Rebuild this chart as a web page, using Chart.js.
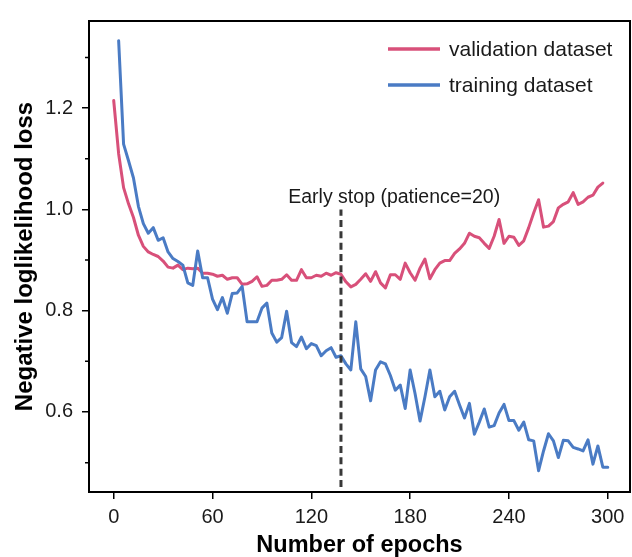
<!DOCTYPE html>
<html><head><meta charset="utf-8">
<style>html,body{margin:0;padding:0;background:#fff;} canvas{display:block}</style>
<script src="https://cdn.jsdelivr.net/npm/chart.js@4.4.1/dist/chart.umd.min.js"></script>
</head><body>
<canvas id="c" width="632" height="557"></canvas>
<script>
// ---- data ----
const validationLoss = [
  1.215, 1.11, 1.043, 1.011, 0.984, 0.949, 0.927, 0.916, 0.911, 0.907,
  0.898, 0.886, 0.884, 0.890, 0.881, 0.884, 0.883, 0.884, 0.874, 0.874,
  0.872, 0.868, 0.870, 0.862, 0.865, 0.865, 0.852, 0.853, 0.858, 0.867,
  0.848, 0.850, 0.860, 0.860, 0.862, 0.871, 0.860, 0.860, 0.881, 0.865,
  0.865, 0.870, 0.868, 0.874, 0.870, 0.875, 0.872, 0.857, 0.847, 0.852,
  0.862, 0.873, 0.858, 0.877, 0.855, 0.845, 0.871, 0.871, 0.862, 0.894,
  0.875, 0.860, 0.884, 0.902, 0.863, 0.881, 0.894, 0.899, 0.899, 0.913,
  0.922, 0.933, 0.953, 0.947, 0.944, 0.933, 0.923, 0.947, 0.980, 0.933,
  0.947, 0.945, 0.929, 0.938, 0.964, 0.993, 1.019, 0.965, 0.967, 0.976,
  1.003, 1.010, 1.015, 1.033, 1.010, 1.015, 1.024, 1.028, 1.044, 1.052
];
const trainingLoss = [
  1.333, 1.129, 1.096, 1.062, 1.006, 0.972, 0.953, 0.964, 0.939, 0.944,
  0.916, 0.903, 0.897, 0.890, 0.855, 0.850, 0.918, 0.865, 0.865, 0.823,
  0.802, 0.826, 0.795, 0.834, 0.835, 0.848, 0.778, 0.778, 0.778, 0.805,
  0.815, 0.756, 0.738, 0.747, 0.799, 0.737, 0.729, 0.748, 0.725, 0.735,
  0.731, 0.711, 0.721, 0.727, 0.708, 0.711, 0.695, 0.683, 0.778, 0.685,
  0.670, 0.622, 0.683, 0.699, 0.695, 0.672, 0.643, 0.653, 0.607, 0.683,
  0.636, 0.582, 0.630, 0.683, 0.630, 0.641, 0.604, 0.630, 0.641, 0.614,
  0.588, 0.617, 0.556, 0.580, 0.606, 0.570, 0.573, 0.598, 0.615, 0.583,
  0.583, 0.564, 0.580, 0.545, 0.543, 0.484, 0.523, 0.557, 0.543, 0.510,
  0.544, 0.543, 0.530, 0.527, 0.523, 0.545, 0.497, 0.533, 0.491, 0.491
];
const epochStep = 3;
const validationEpochs = validationLoss.map((_, i) => i * epochStep);
const trainingEpochs = trainingLoss.map((_, i) => (i + 1) * epochStep);
const seriesLabels = ['validation dataset', 'training dataset'];
const xTicks = [0, 60, 120, 180, 240, 300];
const yMajorTicks = [0.6, 0.8, 1.0, 1.2];
const yMinorTicks = [0.5, 0.7, 0.9, 1.1, 1.3];
const earlyStopEpoch = 138;
const earlyStopLoss = [0.452, 1.0];
const annotationText = 'Early stop (patience=20)';
const annotationAt = {x: 106, y: 1.012};
const xLabel = 'Number of epochs';
const yLabel = 'Negative loglikelihood loss';

// ---- styles ----
const RED = '#d8507a';
const BLUE = '#4a7bc4';
const FONT = "'Liberation Sans', Arial, sans-serif";
const TXT = '#1a1a1a';

const toXY = (xs, ys) => xs.map((x, i) => ({x, y: ys[i]}));

const decor = {
  id: 'decor',
  afterDatasetsDraw(chart) {
    const {ctx, chartArea: a, scales: {x, y}} = chart;
    ctx.save();
    // frame
    ctx.strokeStyle = '#000';
    ctx.lineWidth = 2;
    ctx.strokeRect(a.left, a.top, a.right - a.left, a.bottom - a.top);
    // minor y ticks
    ctx.lineWidth = 1.5;
    ctx.beginPath();
    yMinorTicks.forEach(v => {
      const py = y.getPixelForValue(v);
      ctx.moveTo(a.left - 4, py); ctx.lineTo(a.left, py);
    });
    ctx.stroke();
    // annotation
    ctx.fillStyle = TXT;
    ctx.font = "19.5px " + FONT;
    ctx.textAlign = 'left';
    ctx.textBaseline = 'alphabetic';
    ctx.fillText(annotationText, x.getPixelForValue(annotationAt.x), y.getPixelForValue(annotationAt.y));
    // legend
    const colors = [RED, BLUE];
    const rows = [49, 85];
    ctx.font = "21px " + FONT;
    ctx.textBaseline = 'middle';
    seriesLabels.forEach((lab, i) => {
      ctx.strokeStyle = colors[i];
      ctx.lineWidth = 3.5;
      ctx.beginPath();
      ctx.moveTo(a.right - 242, rows[i]);
      ctx.lineTo(a.right - 190, rows[i]);
      ctx.stroke();
      ctx.fillStyle = TXT;
      ctx.fillText(lab, a.right - 181, rows[i] + 1);
    });
    ctx.restore();
  }
};

new Chart(document.getElementById('c'), {
  type: 'line',
  data: {
    datasets: [
      {
        label: 'early stop',
        data: [{x: earlyStopEpoch, y: earlyStopLoss[0]}, {x: earlyStopEpoch, y: earlyStopLoss[1]}],
        borderColor: '#383838', borderWidth: 3, borderDash: [7, 4.3], pointRadius: 0
      },
      {
        label: seriesLabels[1],
        data: toXY(trainingEpochs, trainingLoss),
        borderColor: BLUE, borderWidth: 3, pointRadius: 0, tension: 0,
        borderJoinStyle: 'round', borderCapStyle: 'round'
      },
      {
        label: seriesLabels[0],
        data: toXY(validationEpochs, validationLoss),
        borderColor: RED, borderWidth: 3, pointRadius: 0, tension: 0,
        borderJoinStyle: 'round', borderCapStyle: 'round'
      }
    ]
  },
  options: {
    responsive: false,
    animation: false,
    events: [],
    layout: {padding: {top: 13, right: 2, left: 0, bottom: 0}},
    plugins: {legend: {display: false}, tooltip: {enabled: false}},
    scales: {
      x: {
        type: 'linear', min: -15, max: 313.5,
        afterBuildTicks: s => { s.ticks = xTicks.map(v => ({value: v})); },
        afterFit: s => { s.height = 65; },
        ticks: {autoSkip: false, maxRotation: 0, padding: 6, color: TXT,
          font: {family: FONT, size: 20}, callback: v => String(v)},
        grid: {display: true, drawOnChartArea: false, drawTicks: true, tickLength: 7, color: '#000', lineWidth: 1.5},
        border: {display: false},
        title: {display: true, text: xLabel, color: '#000',
          font: {family: FONT, size: 23.5, weight: 'bold', lineHeight: 1}, padding: {top: 0, bottom: 0}}
      },
      y: {
        type: 'linear', min: 0.442, max: 1.372,
        afterBuildTicks: s => { s.ticks = yMajorTicks.map(v => ({value: v})); },
        afterFit: s => { s.width = 89; },
        ticks: {autoSkip: false, padding: 9, color: TXT,
          font: {family: FONT, size: 20}, callback: v => Number(v).toFixed(1)},
        grid: {display: true, drawOnChartArea: false, drawTicks: true, tickLength: 7, color: '#000', lineWidth: 1.5},
        border: {display: false},
        title: {display: true, text: yLabel, color: '#000',
          font: {family: FONT, size: 24, weight: 'bold', lineHeight: 1}, padding: {top: 13, bottom: 0}}
      }
    }
  },
  plugins: [decor]
});
</script>
</body></html>
